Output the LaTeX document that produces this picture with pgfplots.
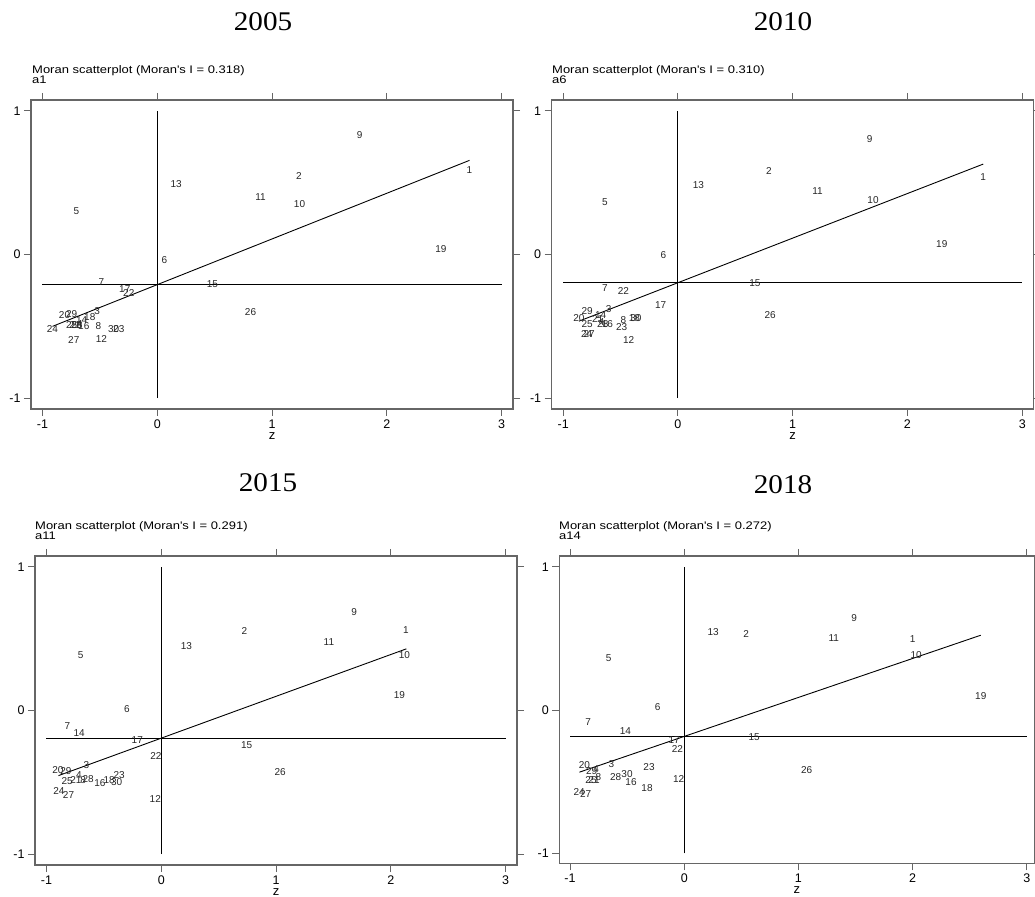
\documentclass[border=0pt]{standalone}
\usepackage{pgfplots}
\pgfplotsset{compat=1.18}
\usepackage{pgfplotstable}
\usepackage{fontspec}
\setmainfont{Liberation Sans}
\newfontfamily\titlefont[FakeStretch=1.08]{Liberation Serif}
\newfontfamily\subfont[FakeStretch=1.18]{Liberation Sans}

\pgfplotstableread{
x y lab
2.721 0.585 1
1.234 0.543 2
-0.524 -0.391 3
-0.675 -0.483 4
-0.704 0.305 5
0.063 -0.036 6
-0.486 -0.191 7
-0.512 -0.497 8
1.763 0.833 9
1.240 0.353 10
0.900 0.397 11
-0.486 -0.588 12
0.165 0.490 13
-0.658 -0.456 14
0.481 -0.205 15
-0.640 -0.497 16
-0.283 -0.242 17
-0.588 -0.433 18
2.471 0.036 19
-0.808 -0.421 20
-0.718 -0.490 21
-0.248 -0.270 22
-0.335 -0.518 23
-0.913 -0.518 24
-0.745 -0.490 25
0.813 -0.400 26
-0.727 -0.595 27
-0.700 -0.490 28
-0.745 -0.416 29
-0.379 -0.518 30
}\tA

\pgfplotstableread{
x y lab
2.660 0.539 1
0.792 0.578 2
-0.604 -0.377 3
-0.665 -0.472 4
-0.636 0.365 5
-0.127 -0.006 6
-0.636 -0.233 7
-0.476 -0.455 8
1.671 0.805 9
1.700 0.377 10
1.217 0.441 11
-0.430 -0.594 12
0.178 0.486 13
-0.674 -0.421 14
0.670 -0.198 15
-0.615 -0.481 16
-0.151 -0.353 17
-0.380 -0.439 18
2.299 0.075 19
-0.863 -0.441 20
-0.700 -0.446 21
-0.476 -0.256 22
-0.491 -0.504 23
-0.796 -0.553 24
-0.791 -0.486 25
0.804 -0.421 26
-0.773 -0.553 27
-0.655 -0.482 28
-0.791 -0.393 29
-0.366 -0.439 30
}\tB

\pgfplotstableread{
x y lab
2.133 0.557 1
0.725 0.553 2
-0.651 -0.381 3
-0.718 -0.451 4
-0.703 0.384 5
-0.299 0.008 6
-0.817 -0.108 7
-0.680 -0.481 8
1.682 0.682 9
2.119 0.388 10
1.461 0.479 11
-0.052 -0.618 12
0.219 0.446 13
-0.715 -0.154 14
0.745 -0.238 15
-0.535 -0.504 16
-0.209 -0.207 17
-0.453 -0.481 18
2.075 0.105 19
-0.901 -0.411 20
-0.744 -0.486 21
-0.046 -0.316 22
-0.366 -0.446 23
-0.892 -0.562 24
-0.820 -0.490 25
1.036 -0.428 26
-0.808 -0.587 27
-0.636 -0.479 28
-0.831 -0.418 29
-0.389 -0.499 30
}\tC

\pgfplotstableread{
x y lab
2.001 0.498 1
0.542 0.533 2
-0.638 -0.374 3
-0.772 -0.414 4
-0.661 0.363 5
-0.232 0.019 6
-0.842 -0.086 7
-0.752 -0.465 8
1.488 0.640 9
2.031 0.381 10
1.309 0.502 11
-0.048 -0.479 12
0.253 0.547 13
-0.515 -0.147 14
0.612 -0.191 15
-0.466 -0.505 16
-0.089 -0.209 17
-0.326 -0.542 18
2.597 0.095 19
-0.874 -0.384 20
-0.790 -0.486 21
-0.060 -0.274 22
-0.308 -0.395 23
-0.921 -0.572 24
-0.816 -0.486 25
1.073 -0.416 26
-0.863 -0.586 27
-0.600 -0.467 28
-0.810 -0.423 29
-0.501 -0.449 30
}\tD

\pgfplotsset{
 moran/.style={
  scale only axis, width=482pt, height=309pt,
  xmin=-1.1, xmax=3.1, ymin=-1.075, ymax=1.075,
  xtick={-1,0,1,2,3}, xticklabels={-1,0,1,2,3},
  ytick={-1,0,1}, yticklabels={-1,0,1},
  tick align=outside, tick pos=both, major tick length=7pt,
  axis line style={draw=black!60, line width=1.1pt},
  tick style={draw=black!60, line width=1pt},
  tick label style={font=\fontsize{12.5}{13}\selectfont},
  xlabel={z}, xlabel style={font=\fontsize{13}{14}\selectfont, yshift=3pt},
  clip=false,
 },
 lbl/.style={only marks, mark=none, nodes near coords, point meta=explicit symbolic,
  every node near coord/.append style={anchor=center, inner sep=0pt, text=black!85, font=\fontsize{10}{10}\selectfont}},
 ln/.style={black, line width=0.9pt},
}

\begin{document}
\begin{tikzpicture}[x=1pt,y=1pt]
\useasboundingbox (0,0) rectangle (1035,896);

% Panel 1
\begin{axis}[moran, at={(31pt,487pt)}, anchor=south west]
\addplot[ln] coordinates {(-1,-0.21) (3,-0.21)};
\addplot[ln] coordinates {(0,-1) (0,1)};
\addplot[ln] coordinates {(-0.913,-0.500) (2.721,0.655)};
\addplot[lbl] table[x=x,y=y,meta=lab]{\tA};
\end{axis}

% Panel 2
\begin{axis}[moran, at={(551.7pt,487pt)}, anchor=south west]
\addplot[ln] coordinates {(-1,-0.196) (3,-0.196)};
\addplot[ln] coordinates {(0,-1) (0,1)};
\addplot[ln] coordinates {(-0.863,-0.464) (2.660,0.629)};
\addplot[lbl] table[x=x,y=y,meta=lab]{\tB};
\end{axis}

% Panel 3
\begin{axis}[moran, at={(35pt,31pt)}, anchor=south west]
\addplot[ln] coordinates {(-1,-0.193) (3,-0.193)};
\addplot[ln] coordinates {(0,-1) (0,1)};
\addplot[ln] coordinates {(-0.895,-0.453) (2.136,0.429)};
\addplot[lbl] table[x=x,y=y,meta=lab]{\tC};
\end{axis}

% Panel 4
\begin{axis}[moran, at={(559.3pt,32.7pt)}, anchor=south west, width=475pt, height=307.3pt, xmin=-1.094, xmax=3.066, ymin=-1.07, ymax=1.075]
\addplot[ln] coordinates {(-1,-0.184) (3,-0.184)};
\addplot[ln] coordinates {(0,-1) (0,1)};
\addplot[ln] coordinates {(-0.918,-0.434) (2.597,0.522)};
\addplot[lbl] table[x=x,y=y,meta=lab]{\tD};
\end{axis}

% Titles
\node[font=\titlefont\fontsize{27}{27}\selectfont] at (263,874) {2005};
\node[font=\titlefont\fontsize{27}{27}\selectfont] at (783,874) {2010};
\node[font=\titlefont\fontsize{27}{27}\selectfont] at (268,413) {2015};
\node[font=\titlefont\fontsize{27}{27}\selectfont] at (783,411) {2018};

% Subtitles
\node[anchor=base west, inner sep=0pt, font=\subfont\fontsize{11}{11}\selectfont] at (32,822) {Moran scatterplot (Moran\textquotesingle s I = 0.318)};
\node[anchor=base west, inner sep=0pt, font=\subfont\fontsize{11}{11}\selectfont] at (32,812) {a1};
\node[anchor=base west, inner sep=0pt, font=\subfont\fontsize{11}{11}\selectfont] at (552,822) {Moran scatterplot (Moran\textquotesingle s I = 0.310)};
\node[anchor=base west, inner sep=0pt, font=\subfont\fontsize{11}{11}\selectfont] at (552,812) {a6};
\node[anchor=base west, inner sep=0pt, font=\subfont\fontsize{11}{11}\selectfont] at (35,366) {Moran scatterplot (Moran\textquotesingle s I = 0.291)};
\node[anchor=base west, inner sep=0pt, font=\subfont\fontsize{11}{11}\selectfont] at (35,356) {a11};
\node[anchor=base west, inner sep=0pt, font=\subfont\fontsize{11}{11}\selectfont] at (559,366) {Moran scatterplot (Moran\textquotesingle s I = 0.272)};
\node[anchor=base west, inner sep=0pt, font=\subfont\fontsize{11}{11}\selectfont] at (559,356) {a14};
\end{tikzpicture}
\end{document}
